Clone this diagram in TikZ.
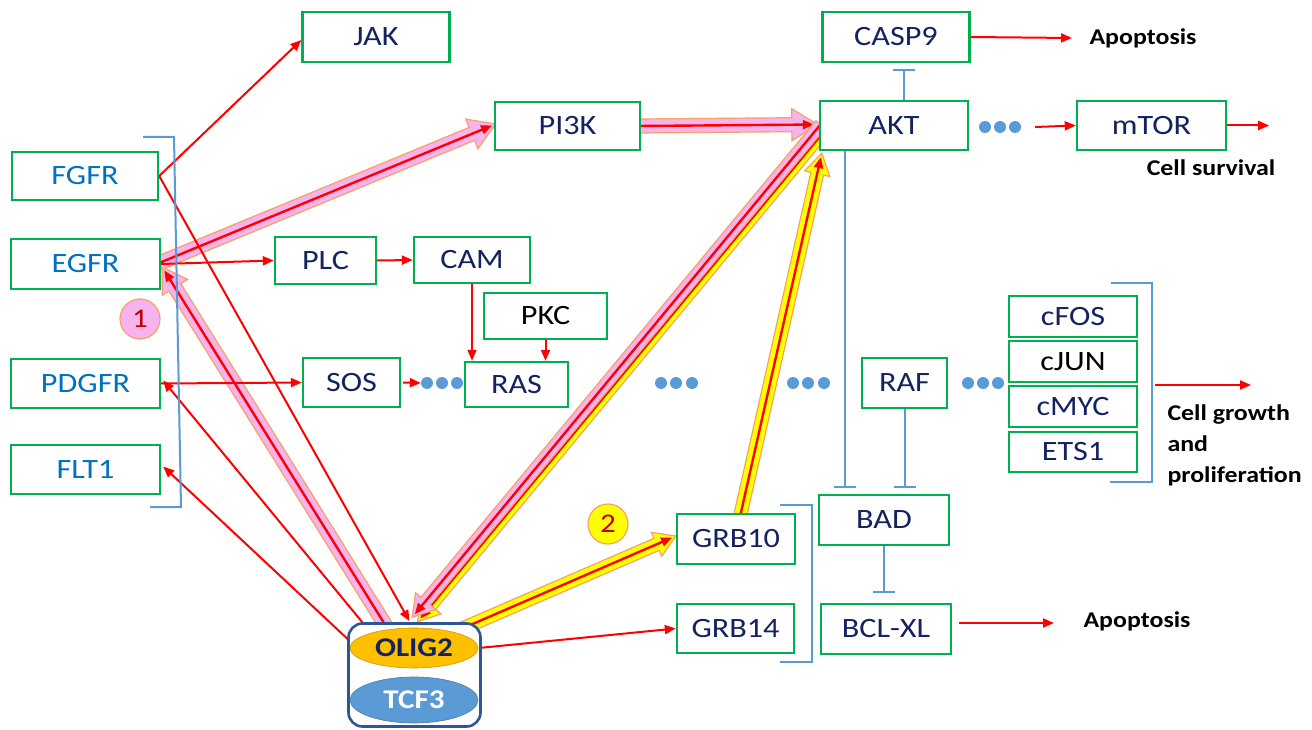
\documentclass[tikz,border=0pt]{standalone}
\usepackage{fontspec}
\setmainfont{Carlito}[FakeStretch=1.15]
\usetikzlibrary{arrows.meta,calc,shapes.geometric}
\pgfdeclarelayer{bg}
\pgfsetlayers{bg,main}

\definecolor{boxgreen}{HTML}{00B050}
\definecolor{navy}{HTML}{13235F}
\definecolor{recblue}{HTML}{0070C0}
\definecolor{lineblue}{HTML}{5B9BD5}
\definecolor{arrred}{HTML}{FF0000}
\definecolor{pathpink}{HTML}{F7B3EE}
\definecolor{pathyellow}{HTML}{FFFF00}
\definecolor{fatedge}{HTML}{F5A263}
\definecolor{olig}{HTML}{FFC000}
\definecolor{tcf}{HTML}{5B9BD5}
\definecolor{complexblue}{HTML}{2F5597}
\definecolor{numred}{HTML}{C00000}

% broad highlighted pathway arrow: tail, tip, fill, half shaft, half head, head length
\newcommand\fatarrow[6]{%
  \coordinate (fa-b) at ($(#2)!#6!(#1)$);
  \filldraw[fill=#3, draw=fatedge, line width=1.2pt, line join=miter]
    ($(#1)!#4!90:(#2)$) -- ($(fa-b)!#4!-90:(#1)$) -- ($(fa-b)!#5!-90:(#1)$) -- (#2)
    -- ($(fa-b)!#5!90:(#1)$) -- ($(fa-b)!#4!90:(#1)$) -- ($(#1)!#4!-90:(#2)$) -- cycle;
  \draw[redarrow, line width=2.4pt] (#1) -- ($(#2)!4pt!(#1)$);
}

\tikzset{
  box/.style={draw=boxgreen, line width=2.4pt, fill=white, inner sep=0pt,
    text=navy, font=\fontsize{28}{32}\selectfont},
  recbox/.style={box, text=recblue},
  redarrow/.style={draw=arrred, line width=2pt, -{Triangle[length=11pt,width=9pt]}},
  inhib/.style={draw=lineblue, line width=2pt, -{Bar[width=22pt]}},
  bracket/.style={draw=lineblue, line width=2pt},
  dot/.style={circle, fill=lineblue, inner sep=0pt, minimum size=12pt},
  outcome/.style={font=\bfseries\fontsize{22.5}{31}\selectfont, text=black},
  num/.style={circle, draw=fatedge, line width=1.2pt, minimum size=40pt, inner sep=0pt,
    text=numred, font=\fontsize{27}{30}\selectfont},
}

\begin{document}
\begin{tikzpicture}[x=1pt, y=-1pt]
\useasboundingbox (0,0) rectangle (1312,730);

% receptors
\node[recbox, minimum width=146pt, minimum height=48pt] (FGFR)  at (85,176)    {FGFR};
\node[recbox, minimum width=149pt, minimum height=50pt] (EGFR)  at (85.5,264)  {EGFR};
\node[recbox, minimum width=149pt, minimum height=49pt] (PDGFR) at (85.5,383.5) {PDGFR};
\node[recbox, minimum width=149pt, minimum height=49pt] (FLT1)  at (85.5,469.5) {FLT1};

% signalling proteins
\node[box, minimum width=147pt, minimum height=50pt] (JAK)   at (376,37)     {JAK};
\node[box, minimum width=147pt, minimum height=50pt] (CASP9) at (896,37)     {CASP9};
\node[box, minimum width=145pt, minimum height=48pt] (PI3K)  at (567.5,126)  {PI3K};
\node[box, minimum width=148pt, minimum height=49pt] (AKT)   at (894,125.5)  {AKT};
\node[box, minimum width=149pt, minimum height=49pt] (mTOR)  at (1151.5,125.5) {mTOR};
\node[box, minimum width=101pt, minimum height=47pt] (PLC)   at (325.5,260.5) {PLC};
\node[box, minimum width=116pt, minimum height=46pt] (CAM)   at (472,260)    {CAM};
\node[box, minimum width=123pt, minimum height=46pt, text=black] (PKC) at (545.5,316) {PKC};
\node[box, minimum width=97pt,  minimum height=49pt] (SOS)   at (351.5,382.5) {SOS};
\node[box, minimum width=103pt, minimum height=45pt] (RAS)   at (516.5,384.5) {RAS};
\node[box, minimum width=85pt,  minimum height=50pt] (RAF)   at (904.5,383)  {RAF};
\node[box, minimum width=128pt, minimum height=41pt] (cFOS)  at (1073,316.5) {cFOS};
\node[box, minimum width=128pt, minimum height=41pt, text=black] (cJUN) at (1073,361.5) {cJUN};
\node[box, minimum width=128pt, minimum height=41pt] (cMYC)  at (1073,406.5) {cMYC};
\node[box, minimum width=128pt, minimum height=40pt] (ETS1)  at (1073,452)   {ETS1};
\node[box, minimum width=118pt, minimum height=50pt] (GRB10) at (736,539)    {GRB10};
\node[box, minimum width=117pt, minimum height=49pt] (GRB14) at (735.5,628.5) {GRB14};
\node[box, minimum width=130pt, minimum height=50pt] (BAD)   at (884,520)    {BAD};
\node[box, minimum width=130pt, minimum height=50pt] (BCLXL) at (886,629)    {BCL-XL};

% OLIG2 / TCF3 complex
\node[draw=complexblue, line width=2.6pt, rounded corners=14pt, fill=white,
      minimum width=132pt, minimum height=103pt] (olbox) at (414.5,675) {};
\node[ellipse, fill=olig, draw=olig!80!black, line width=0.6pt, minimum width=128pt,
      minimum height=40pt, inner sep=0pt, text=navy,
      font=\bfseries\fontsize{27}{30}\selectfont] (OLIG2) at (414,648) {OLIG2};
\node[ellipse, fill=tcf, draw=tcf!80!black, line width=0.6pt, minimum width=128pt,
      minimum height=46pt, inner sep=0pt, text=white,
      font=\bfseries\fontsize{27}{30}\selectfont] (TCF3) at (414,700) {TCF3};

% intermediate steps
\node[dot] (s1) at (427,383) {}; \node[dot] (s2) at (442,383) {}; \node[dot] (s3) at (457,383) {};
\node[dot] (m1) at (661,383) {}; \node[dot] (m2) at (676,383) {}; \node[dot] (m3) at (692,383) {};
\node[dot] (n1) at (793,383) {}; \node[dot] (n2) at (808,383) {}; \node[dot] (n3) at (824,383) {};
\node[dot] (r1) at (968,383) {}; \node[dot] (r2) at (983,383) {}; \node[dot] (r3) at (998,383) {};
\node[dot] (a1) at (985,127) {}; \node[dot] (a2) at (1000,127) {}; \node[dot] (a3) at (1015,127) {};

% outcomes
\node[outcome] (apopA) at (1143,38) {Apoptosis};
\node[outcome] (survival) at (1211,168) {Cell survival};
\node[outcome] (apopB) at (1137,621) {Apoptosis};
\node[outcome, anchor=west, align=left] (growth) at (1164,445) {Cell growth\\and\\proliferation};

% pathway numbers
\node[num, fill=pathpink] (num1) at (140,319) {1};
\node[num, fill=pathyellow] (num2) at (608,524) {2};

% brackets grouping receptors, GRBs and transcription factors
\draw[bracket] (143,137) -- (174,137) -- (181,507) -- (150,507);
\draw[bracket] (780,505) -- (812,505) -- (812,662) -- (780,662);
\draw[bracket] (1111,283) -- (1152,283) -- (1152,482) -- (1110,482);
\coordinate (brR) at (1152,385);

\begin{pgfonlayer}{bg}
  % highlighted pathway 1 (pink)
  \coordinate (p1a) at ($(olbox.north)+(-26,8)$);
  \coordinate (p1b) at ($(EGFR.east)+(1,3)$);
  \coordinate (p2a) at ($(EGFR.east)+(-2,-1)$);
  \coordinate (p2b) at ($(PI3K.west)+(2,-2)$);
  \coordinate (p3a) at ($(PI3K.east)+(-3,0)$);
  \coordinate (p3b) at ($(AKT.west)+(-1,-1)$);
  % AKT back to OLIG2, shared by both pathways
  \coordinate (k1) at ($(AKT.west)+(4,1)$);
  \coordinate (k2) at ($(olbox.north)+(0,-3)$);
  \coordinate (p4a) at ($(k1)!3pt!-90:(k2)$);
  \coordinate (p4b) at ($(k2)!3pt!90:(k1)$);
  \coordinate (y3a) at ($(k1)!4pt!90:(k2)$);
  \coordinate (y3b) at ($(k2)!4pt!-90:(k1)$);
  \fatarrow{y3a}{y3b}{pathyellow}{6pt}{13pt}{21pt}
  \fatarrow{p1a}{p1b}{pathpink}{7pt}{15pt}{24pt}
  \fatarrow{p2a}{p2b}{pathpink}{7pt}{16pt}{26pt}
  \fatarrow{p3a}{p3b}{pathpink}{7pt}{16pt}{26pt}
  \fatarrow{p4a}{p4b}{pathpink}{6pt}{13pt}{21pt}
  % highlighted pathway 2 (yellow)
  \coordinate (y1a) at ($(olbox.north)+(30,14)$);
  \coordinate (y1b) at ($(GRB10.west)+(0,-3)$);
  \coordinate (y2a) at ($(GRB10.north)+(4,4)$);
  \coordinate (y2b) at ($(AKT.south west)+(3,2)$);
  \fatarrow{y1a}{y1b}{pathyellow}{6.5pt}{13pt}{21pt}
  \fatarrow{y2a}{y2b}{pathyellow}{6.5pt}{13pt}{21pt}

  % activations
  \draw[redarrow] (FGFR.east) -- ([yshift=-3pt]JAK.west);
  \draw[redarrow] (FGFR.east) -- ($(olbox.north)+(-5,-1)$);
  \draw[redarrow] (EGFR.east) -- (PLC.west);
  \draw[redarrow] (PLC.east) -- (CAM.west);
  \draw[redarrow] (CAM.south) -- (CAM.south |- RAS.north);
  \draw[redarrow] (PKC.south) -- (PKC.south |- RAS.north);
  \draw[redarrow] (PDGFR.east) -- (SOS.west);
  \draw[redarrow] ([xshift=2pt]SOS.east) -- (s1.west);
  \draw[redarrow] ($(olbox.north west)+(20,6)$) -- ([xshift=2pt,yshift=3pt]PDGFR.east);
  \draw[redarrow] ($(olbox.north west)+(6,22)$) -- ([xshift=2pt,yshift=3pt]FLT1.east);
  \draw[redarrow] ($(olbox.east)+(-3,-27)$) -- (GRB14.west);
  \draw[redarrow] (CASP9.east) -- ([xshift=-14pt]apopA.west);
  \draw[redarrow] ([xshift=14pt]a3.east) -- (mTOR.west);
  \draw[redarrow] (mTOR.east) -- ++(42,0) coordinate (survout);
  \draw[redarrow] ([xshift=3pt]brR) -- ++(96,0) coordinate (growout);
  \draw[redarrow] ([xshift=7pt,yshift=6pt]BCLXL.east) -- ([xshift=-26pt,yshift=-2pt]apopB.west);

  % inhibitions
  \draw[inhib] ([xshift=10pt]AKT.north) -- ([xshift=8pt,yshift=-6pt]CASP9.south);
  \draw[inhib] ([xshift=-49pt]AKT.south) -- ([xshift=-39pt,yshift=6pt]BAD.north);
  \draw[inhib] (RAF.south) -- ([xshift=20.5pt,yshift=6pt]BAD.north);
  \draw[inhib] (BAD.south) -- ([yshift=10pt]BAD.south |- BCLXL.north);
\end{pgfonlayer}
\end{tikzpicture}
\end{document}
